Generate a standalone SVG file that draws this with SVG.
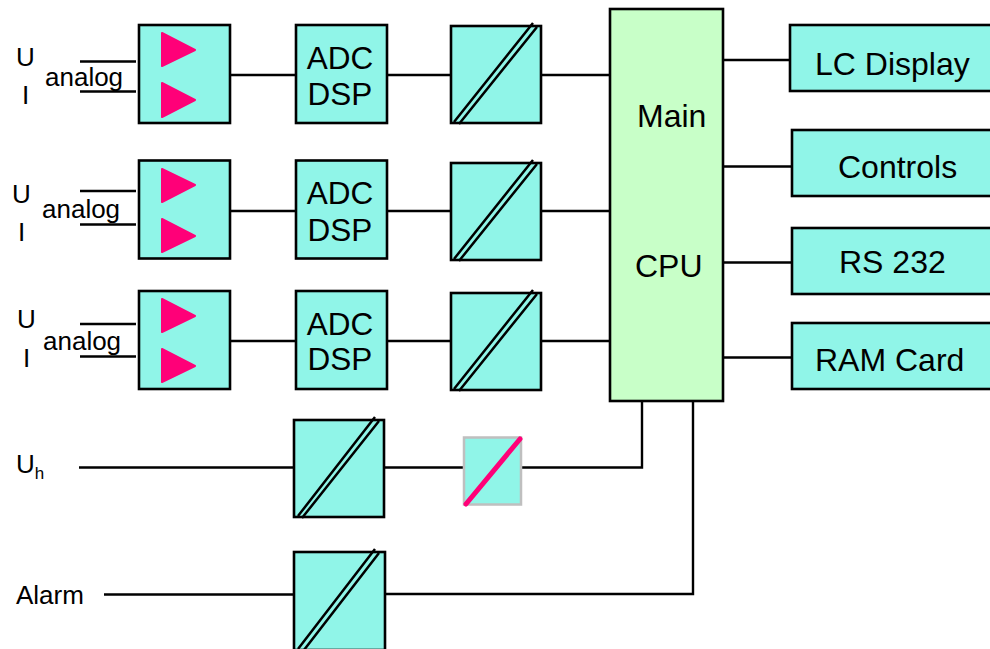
<svg xmlns="http://www.w3.org/2000/svg" width="990" height="649" viewBox="0 0 990 649">
<style>
text{font-family:"Liberation Sans",Arial,sans-serif;fill:#000}
.b{fill:#90f5e8;stroke:#000;stroke-width:2.600}
.l{fill:none;stroke:#000;stroke-width:2.400}
.t{font-size:31.500px;text-anchor:middle}
.s{font-size:26px}
.d{fill:none;stroke:#000;stroke-width:2.500}
.m{font-size:32px}
</style>
<rect width="990" height="649" fill="#fff"/>
<g id="connectors">
<path class="l" d="M80 61.500H136M80 91.500H136M231 75H296M387 75H451M541 75H610"/>
<path class="l" d="M80 191H136M80 224.500H136M231 211H296M387 211H451M541 211H610"/>
<path class="l" d="M80 324H136M80 356.500H136M231 341H296M387 341H451M541 341H610"/>
<path class="l" d="M79 467.500H294M384 467.500H463M522 467.500H642V401"/>
<path class="l" d="M104 594.500H294M385 594H693V401"/>
<path class="l" d="M723 60H790M723 166.500H792M723 262.500H792M723 357.500H792"/>
</g>
<g id="amp1"><rect class="b" x="139" y="25" width="91" height="98"/><path d="M162 33L195 50L162 66ZM162 83L195 100L162 117Z" fill="#ff0078" stroke="#ff0078" stroke-width="2" stroke-linejoin="round"/></g>
<g id="amp2"><rect class="b" x="139" y="160.500" width="91" height="98"/><path d="M162 169L195 185L162 202ZM162 219L195 236L162 252Z" fill="#ff0078" stroke="#ff0078" stroke-width="2" stroke-linejoin="round"/></g>
<g id="amp3"><rect class="b" x="139" y="291" width="91" height="98"/><path d="M162 299L195 316L162 332ZM162 349L195 366L162 382Z" fill="#ff0078" stroke="#ff0078" stroke-width="2" stroke-linejoin="round"/></g>
<g id="adc1"><rect class="b" x="296" y="25" width="91" height="98"/><text class="t" x="340" y="69">ADC</text><text class="t" x="340" y="105">DSP</text></g>
<g id="adc2"><rect class="b" x="296" y="160.500" width="91" height="98"/><text class="t" x="340" y="204">ADC</text><text class="t" x="340" y="241">DSP</text></g>
<g id="adc3"><rect class="b" x="296" y="291" width="91" height="98"/><text class="t" x="340" y="335">ADC</text><text class="t" x="340" y="370">DSP</text></g>
<g id="conv1"><rect class="b" x="451" y="26" width="90" height="97"/><path class="d" d="M454 122L533 23M459 124L537 27"/></g>
<g id="conv2"><rect class="b" x="451" y="163" width="90" height="97"/><path class="d" d="M454 259L533 160M459 261L537 164"/></g>
<g id="conv3"><rect class="b" x="451" y="293" width="90" height="97"/><path class="d" d="M454 389L533 290M459 391L537 294"/></g>
<g id="conv4"><rect class="b" x="294" y="420" width="90" height="97"/><path class="d" d="M298 516L375 417M302 518L379 421"/></g>
<g id="conv5"><rect class="b" x="294" y="552" width="91" height="98"/><path class="d" d="M298 649L375 549M304 650L379 553"/></g>
<g id="iso"><rect x="464" y="437.500" width="57" height="67" fill="#90f5e8" stroke="#bfbfbf" stroke-width="2.500"/><path d="M466 504L520 439" fill="none" stroke="#ff0078" stroke-width="5" stroke-linecap="round"/></g>
<g id="cpu"><rect x="610" y="9" width="113" height="392" fill="#c8ffc8" stroke="#000" stroke-width="2.600"/><text class="m" x="637" y="127">Main</text><text class="m" x="635" y="277">CPU</text></g>
<g id="display"><rect class="b" x="790" y="25" width="210" height="66"/><text class="m" x="815" y="75">LC Display</text></g>
<g id="controls"><rect class="b" x="792" y="130" width="208" height="66"/><text class="m" x="838" y="178">Controls</text></g>
<g id="rs232"><rect class="b" x="792" y="228" width="208" height="66"/><text class="m" x="839" y="273">RS 232</text></g>
<g id="ram"><rect class="b" x="792" y="323" width="208" height="66"/><text class="m" x="815" y="371">RAM Card</text></g>
<g id="labels">
<text class="s" x="16" y="66">U</text><text class="s" x="22" y="104">I</text><text class="s" x="45" y="86">analog</text>
<text class="s" x="12" y="203">U</text><text class="s" x="18" y="241">I</text><text class="s" x="42" y="218">analog</text>
<text class="s" x="17" y="328">U</text><text class="s" x="23" y="367">I</text><text class="s" x="43" y="350">analog</text>
<text class="s" x="16" y="473">U<tspan font-size="17" dy="6">h</tspan></text>
<text class="s" x="16" y="604">Alarm</text>
</g>
</svg>
